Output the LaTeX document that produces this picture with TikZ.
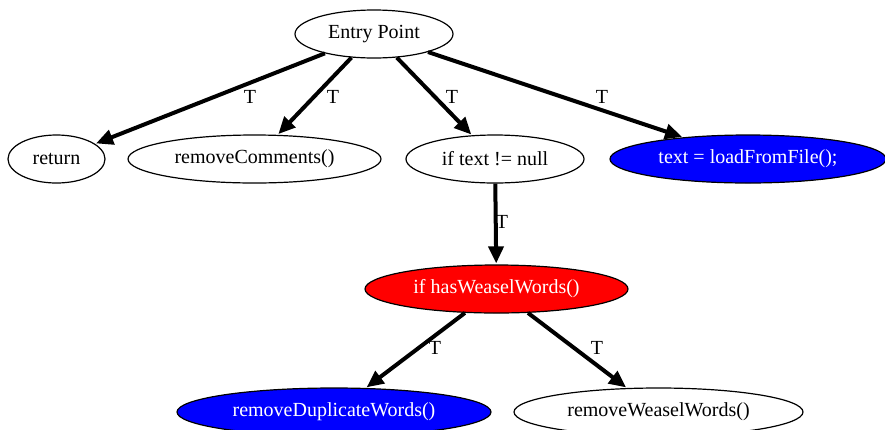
\documentclass[tikz,border=0pt]{standalone}
\usepackage{fontspec}
\setmainfont{Liberation Serif}
\usetikzlibrary{shapes.geometric, arrows.meta}
\definecolor{dotblue}{RGB}{0,0,255}
\definecolor{dotred}{RGB}{255,0,0}

\begin{document}
\begin{tikzpicture}[x=1pt, y=1pt,
	stmt/.style={ellipse, draw, line width=1.2pt, inner sep=0pt, minimum height=48pt, font=\fontsize{20}{24}\selectfont},
	bluestmt/.style={stmt, fill=dotblue, text=white},
	redstmt/.style={stmt, fill=dotred, text=white},
	flow/.style={line width=4pt, -{Triangle[length=17pt, width=15pt]}, shorten >=1pt},
	lbl/.style={font=\fontsize{20}{24}\selectfont, inner sep=0pt}]
	\useasboundingbox (0, 0) rectangle (885, -429);
	\clip (0, 0) rectangle (885, -429);
	% Paths, nodes and wires:
	\node[stmt, minimum width=158pt](entry) at (374, -34){Entry Point};
	\node[stmt, minimum width=97pt](ret) at (56.5, -159){return};
	\node[stmt, minimum width=253pt](rmcom) at (254.5, -159){removeComments()};
	\node[stmt, minimum width=178pt](iftext) at (495, -159){if text != null};
	\node[bluestmt, minimum width=276pt](load) at (748, -159){text = loadFromFile();};
	\node[redstmt, minimum width=263pt](ifweasel) at (496.5, -289){if hasWeaselWords()};
	\node[bluestmt, minimum width=314pt](rmdup) at (334, -412){removeDuplicateWords()};
	\node[stmt, minimum width=289pt](rmweasel) at (658.5, -412){removeWeaselWords()};
	% Edge labels:
	\node[lbl](tret) at (250, -97){T};
	\node[lbl](trmcom) at (333, -97){T};
	\node[lbl](tiftext) at (452, -97){T};
	\node[lbl](tload) at (602, -97){T};
	\node[lbl](tifweasel) at (502, -222){T};
	\node[lbl](trmdup) at (435, -348){T};
	\node[lbl](trmweasel) at (597, -348){T};
	\draw[flow] (entry) -- (ret);
	\draw[flow] (entry) -- (rmcom);
	\draw[flow] (entry) -- (iftext);
	\draw[flow] (entry) -- (load);
	\draw[flow] (iftext) -- (ifweasel);
	\draw[flow] (ifweasel) -- (rmdup);
	\draw[flow] (ifweasel) -- (rmweasel);
\end{tikzpicture}
\end{document}
